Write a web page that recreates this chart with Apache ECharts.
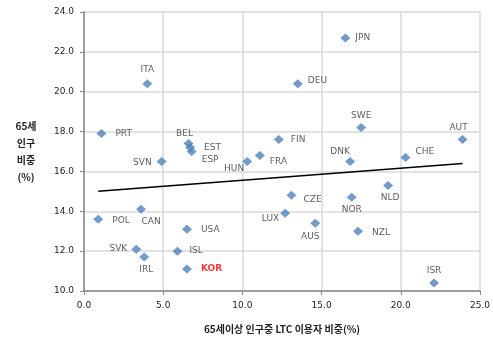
<!DOCTYPE html>
<html><head><meta charset="utf-8">
<script src="https://cdn.jsdelivr.net/npm/echarts@6/dist/echarts.min.js"></script>
<style>html,body{margin:0;padding:0;background:#fff}#c{width:493px;height:339px}</style>
</head><body><div id="c"></div>
<script>
const countries = ['JPN','ITA','DEU','SWE','PRT','BEL','EST','ESP','FIN','AUT','DNK','CHE','SVN','HUN','FRA','NLD','CZE','NOR','CAN','LUX','POL','AUS','USA','NZL','SVK','ISL','IRL','KOR','ISR'];
const ltcShare = [16.5,4.0,13.5,17.5,1.1,6.6,6.7,6.8,12.3,23.9,16.8,20.3,4.9,10.3,11.1,19.2,13.1,16.9,3.6,12.7,0.9,14.6,6.5,17.3,3.3,5.9,3.8,6.5,22.1];
const elderShare = [22.7,20.4,20.4,18.2,17.9,17.4,17.2,17.0,17.6,17.6,16.5,16.7,16.5,16.5,16.8,15.3,14.8,14.7,14.1,13.9,13.6,13.4,13.1,13.0,12.1,12.0,11.7,11.1,10.4];
const trendX = [0.9, 23.9];
const trendY = [15.0, 16.4];
const xTicks = ['0.0','5.0','10.0','15.0','20.0','25.0'];
const yTicks = ['10.0','12.0','14.0','16.0','18.0','20.0','22.0','24.0'];

// label placement (style only)
const labelPos = {
  JPN:['right',[2,0]], ITA:['top',[0,-2]], DEU:['right',[2,-3]], SWE:['top',[0,0]], PRT:['right',[6,0]],
  BEL:['top',[-4,2]], EST:['right',[6,0]], ESP:['right',[2,8]], FIN:['right',[4,0]], AUT:['top',[-4,0]],
  DNK:['top',[-10,2]], CHE:['right',[2,-6]], SVN:['left',[-2,1]], HUN:['left',[5,7]], FRA:['right',[2,6]],
  NLD:['bottom',[2,0]], CZE:['right',[4,4]], NOR:['bottom',[0,0]], CAN:['bottom',[10,0]], LUX:['left',[2,5]],
  POL:['right',[6,1]], AUS:['bottom',[-5,1]], USA:['right',[6,0]], NZL:['right',[6,1]], SVK:['left',[-1,0]],
  ISL:['right',[4,0]], IRL:['bottom',[2,1]], KOR:['right',[6,0]], ISR:['top',[0,0]]
};

const pts = countries.map((c,i)=>{
  const lp = labelPos[c];
  const item = {name:c, value:[ltcShare[i], elderShare[i]],
    label:{position:lp[0], offset:lp[1]}};
  if (c==='KOR') { item.label.color = '#ff0000'; item.label.fontWeight = 'bold'; }
  return item;
});

const chart = echarts.init(document.getElementById('c'), null, {renderer:'canvas'});
chart.setOption({
  animation:false,
  grid:{left:84, right:12, top:12, bottom:45},
  xAxis:{type:'value', min:0, max:25, interval:5,
    axisLine:{show:true, lineStyle:{color:'#868686', width:1.5}},
    axisTick:{show:true, length:4, lineStyle:{color:'#868686'}},
    axisLabel:{formatter:(v)=>xTicks[Math.round(v/5)], fontFamily:'DejaVu Sans', fontSize:9, color:'#222', margin:10},
    splitLine:{show:true, lineStyle:{color:'#d9d9d9', width:1.5}},
    name:'65세이상 인구중 LTC 이용자 비중(%)', nameLocation:'middle', nameGap:33,
    nameTextStyle:{fontFamily:'Noto Sans CJK KR', fontWeight:'bold', fontSize:10, color:'#222'}
  },
  yAxis:{type:'value', min:10, max:24, interval:2,
    axisLine:{show:true, lineStyle:{color:'#868686', width:1.5}},
    axisTick:{show:true, length:4, lineStyle:{color:'#868686'}},
    axisLabel:{formatter:(v)=>yTicks[Math.round((v-10)/2)], fontFamily:'DejaVu Sans', fontSize:9, color:'#222', margin:10},
    splitLine:{show:true, lineStyle:{color:'#d9d9d9', width:1.5}},
    name:'65세\n인구\n비중\n(%)', nameLocation:'middle', nameGap:58, nameRotate:0,
    nameTextStyle:{fontFamily:'Noto Sans CJK KR', fontWeight:'bold', fontSize:10, color:'#222', lineHeight:17, align:'center'}
  },
  series:[
    {type:'line', data:trendX.map((x,i)=>[x,trendY[i]]), symbol:'none', silent:true,
      lineStyle:{color:'#000', width:1.5}, z:1},
    {type:'scatter', data:pts, symbol:'diamond', symbolSize:[10,9],
      itemStyle:{color:'#4F81BD'}, z:3,
      label:{show:true, formatter:'{b}', fontFamily:'DejaVu Sans', fontSize:9, color:'#333', distance:3}
    }
  ]
});
</script></body></html>
